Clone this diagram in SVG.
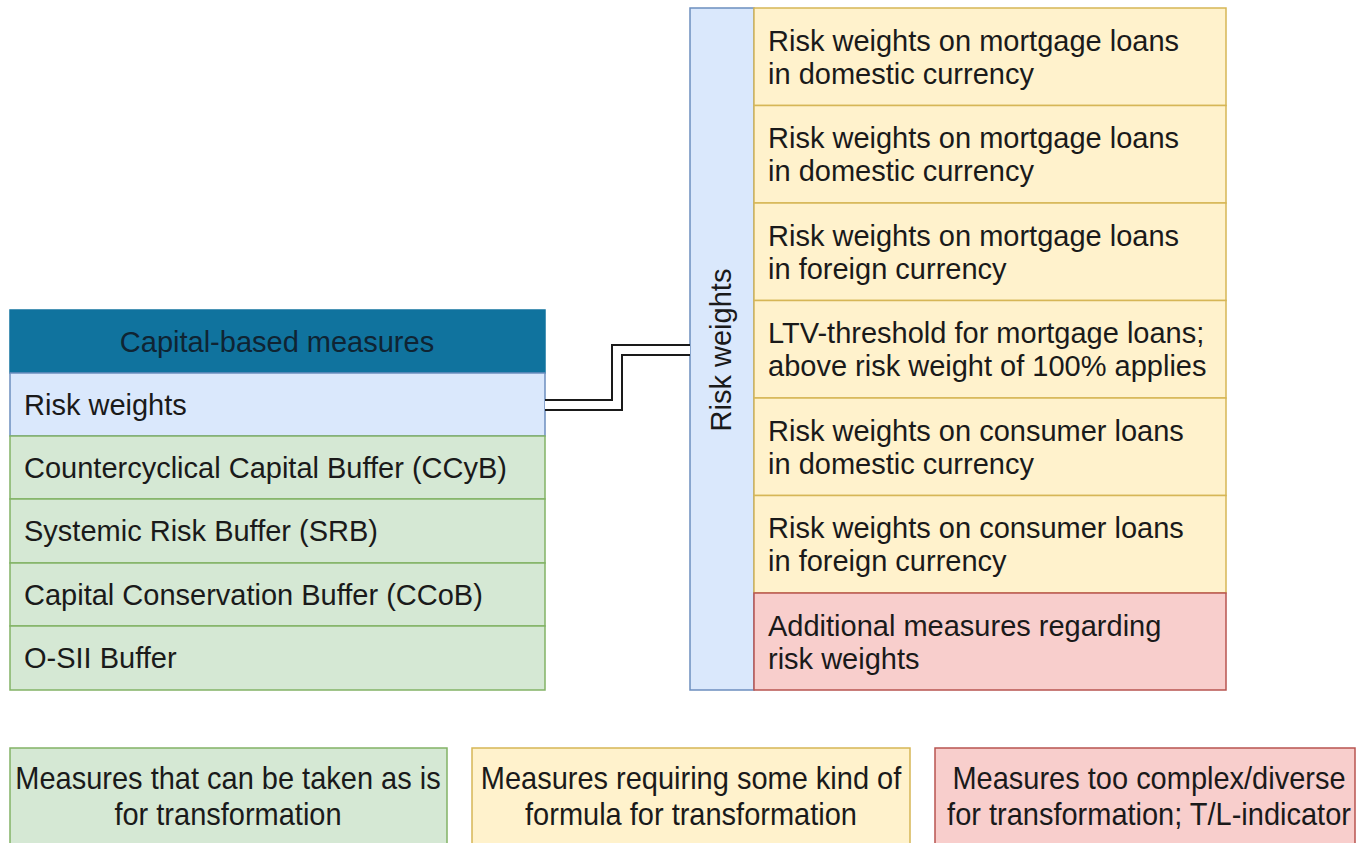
<svg xmlns="http://www.w3.org/2000/svg" width="1360" height="843" viewBox="0 0 1360 843">
<style>
text{font-family:"Liberation Sans",Arial,sans-serif;font-size:29px;fill:#1a1a1a}
.hdr{fill:#10739e;stroke:#10739e;stroke-width:1.5}
.blue{fill:#dae8fc;stroke:#6c8ebf;stroke-width:1.5}
.green{fill:#d5e8d4;stroke:#82b366;stroke-width:1.5}
.yellow{fill:#fff2cc;stroke:#d6b656;stroke-width:1.5}
.red{fill:#f8cecc;stroke:#b85450;stroke-width:1.5}
.c{text-anchor:middle}
</style>
<rect width="1360" height="843" fill="#ffffff"/>
<g id="capital-based-measures">
<rect class="hdr" x="10" y="310" width="535" height="63"/>
<text class="c" x="277" y="352" style="fill:#0f2433">Capital-based measures</text>
<rect class="blue" x="10" y="373" width="535" height="63"/>
<text x="24" y="415">Risk weights</text>
<rect class="green" x="10" y="436" width="535" height="63"/>
<text x="24" y="478">Countercyclical Capital Buffer (CCyB)</text>
<rect class="green" x="10" y="499" width="535" height="64"/>
<text x="24" y="541">Systemic Risk Buffer (SRB)</text>
<rect class="green" x="10" y="563" width="535" height="63"/>
<text x="24" y="605">Capital Conservation Buffer (CCoB)</text>
<rect class="green" x="10" y="626" width="535" height="64"/>
<text x="24" y="668">O-SII Buffer</text>
</g>
<g id="risk-weights">
<rect class="blue" x="690" y="8" width="64" height="682"/>
<text class="c" transform="translate(731,350) rotate(-90)" x="0" y="0">Risk weights</text>
<rect class="yellow" x="754" y="8" width="472" height="97.5"/>
<text x="768" y="51">Risk weights on mortgage loans</text>
<text x="768" y="84">in domestic currency</text>
<rect class="yellow" x="754" y="105.5" width="472" height="97.5"/>
<text x="768" y="148">Risk weights on mortgage loans</text>
<text x="768" y="181">in domestic currency</text>
<rect class="yellow" x="754" y="203" width="472" height="97.5"/>
<text x="768" y="246">Risk weights on mortgage loans</text>
<text x="768" y="279">in foreign currency</text>
<rect class="yellow" x="754" y="300.5" width="472" height="97.5"/>
<text x="768" y="343">LTV-threshold for mortgage loans;</text>
<text x="768" y="376">above risk weight of 100% applies</text>
<rect class="yellow" x="754" y="398" width="472" height="97.5"/>
<text x="768" y="441">Risk weights on consumer loans</text>
<text x="768" y="474">in domestic currency</text>
<rect class="yellow" x="754" y="495.5" width="472" height="97.5"/>
<text x="768" y="538">Risk weights on consumer loans</text>
<text x="768" y="571">in foreign currency</text>
<rect class="red" x="754" y="593" width="472" height="97"/>
<text x="768" y="636">Additional measures regarding</text>
<text x="768" y="669">risk weights</text>
</g>
<g id="connectors">
<path d="M545,405 H617 V350 H690" fill="none" stroke="#1a1a1a" stroke-width="12" stroke-linejoin="miter"/>
<path d="M545,405 H617 V350 H690" fill="none" stroke="#ffffff" stroke-width="8" stroke-linejoin="miter"/>
</g>
<g id="legend-green">
<rect class="green" x="10" y="748" width="437" height="110"/>
<text class="c" transform="translate(228,789) scale(1,1.1)">Measures that can be taken as is</text>
<text class="c" transform="translate(228,825) scale(1,1.1)">for transformation</text>
</g>
<g id="legend-yellow">
<rect class="yellow" x="472" y="748" width="438" height="110"/>
<text class="c" transform="translate(691,789) scale(1,1.1)">Measures requiring some kind of</text>
<text class="c" transform="translate(691,825) scale(1,1.1)">formula for transformation</text>
</g>
<g id="legend-red">
<rect class="red" x="935" y="748" width="420" height="110"/>
<text class="c" transform="translate(1149,789) scale(1,1.1)">Measures too complex/diverse</text>
<text class="c" transform="translate(1149,825) scale(1,1.1)">for transformation; T/L-indicator</text>
</g>
</svg>
